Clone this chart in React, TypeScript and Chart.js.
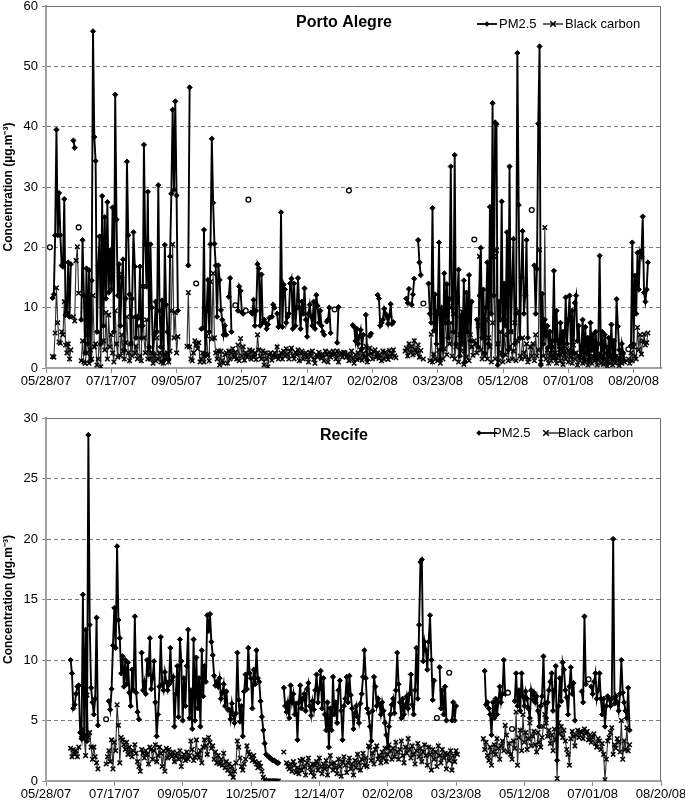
import React, { useEffect, useRef } from 'react';
import { Chart, registerables } from 'chart.js';

Chart.register(...registerables);

const _ = null;

// ---------- Porto Alegre (day 0 = 05/28/07) ----------
const portoStartDay = 0;
const portoPM: (number | null)[] = [
  _, _, _, 20, _, 11.6, 12.2, 22, 39.5, 22, // d0
  29, 22, 17, 16.8, 28, 8.8, 9.2, 17.5, 8.5, 17.2, // d10
  _, 37.7, 36.5, _, _, 23.3, _, 8, 21.2, 12, // d20
  2.5, 16.5, 4, 16.2, 1.2, 14.5, 55.8, 38.3, 34.3, 6, // d30
  17, 21.8, 4, 28.5, 7, 25, 11.5, 27.5, 12.5, 19.5, // d40
  13, 26.6, 6, 45.3, 24.6, 12, 17.2, 7, 15, 18, // d50
  3, 11.5, 34.2, 22, 12.2, 4, 11.5, 22.5, 16.8, 5, // d60
  8.5, 8.3, 16.8, 5, 7, 37, 20.5, 13.5, 29.2, 3.5, // d70
  20.5, 10, 2.5, 5.5, 11, 6, 30.3, 9.5, 3.5, 11.2, // d80
  1.2, 20.4, 10.5, 6, 1.5, 18.5, 28.9, 42.8, 29.5, 44.2, // d90
  28.6, 9.5, _, _, _, _, _, _, _, 17, // d100
  46.5, _, _, _, _, 14, _, _, _, 6.5, // d110
  6.6, 22.9, 2, 9.5, 14.6, 6, 20.5, 38, 27.4, 20.6, // d120
  17, 8.5, 17, 14.6, 9.6, 8, 5.5, 7, 5.5, _, // d130
  11.8, 14.9, 6, _, _, 10.4, _, 9.5, 13.5, 12.8, // d140
  9.2, 9, _, 9.5, _, 27.9, _, 9.2, 9, 11.3, // d150
  7, 9.5, 17.2, 16.5, 7, 15.5, 7.5, 8, 7.5, 6.5, // d160
  7.2, 8.3, _, 8.5, 10.5, 10, _, 9, 6.8, 7, // d170
  25.8, 6.8, 13.8, 13, 7.5, 8.5, 9, 14, 14.8, 6.5, // d180
  14, 7, 10, 14.9, 10, 6.5, 11, 9, 13.2, 8, // d190
  5.2, 9, 10.5, 8.5, 7, 11, 6.5, 12.1, 10.3, 7.5, // d200
  9.5, 7, 6, 5.5, _, 7.7, 8, 10, 5.8, _, // d210
  _, 9.7, _, 4.2, 10.1, _, _, _, _, _, // d220
  _, _, 29.4, _, _, 7.1, 6.8, 4.5, 6.5, 4, // d230
  5.2, 6.3, 3.2, 5.5, _, 8.8, 1.3, _, 5.3, 5.7, // d240
  _, _, _, _, 12.1, 11.5, 7, 7.5, 8, 9.8, // d250
  9, 8.5, 7.3, 8.6, 10.6, 7.3, 7.6, _, _, _, // d260
  _, _, _, _, _, _, 11.5, 10.8, 13.1, _, // d270
  10.5, 12.2, 14.8, _, _, 21.2, 17.5, 15.4, _, 10.7, // d280
  _, _, _, 14, 9, 7.5, 26.5, 6.2, 12.2, 4, // d290
  9, 20.8, 1.5, 10, 3, 15.7, 7.5, 13.9, 5, 11.5, // d300
  33.4, 10, 6, 35.3, 4, 11.9, 16.3, 2, 8.5, 4, // d310
  14.5, 1, 12.5, 6, 15.4, 4.5, 11, _, 21.3, _, // d320
  8, 3.5, 12, 19.9, 5, 13, 2.5, 10, 17.5, 4, // d330
  26.7, 9, 43.9, 12, 40.7, 40.4, 0.5, 11, 8, 27.6, // d340
  2, 14, 7, 22.5, 3, 33.4, 6, 14, 21.4, 4, // d350
  9, 52.2, 27, 5, 15, 22.7, 9, 12, 21.2, 5, // d360
  _, _, 26.2, _, 17, 9, 16.4, 40.5, 53.3, 0.5, // d370
  12.3, 4, 8, 5.4, 7, 3.5, 6, 2, 4.5, 16.1, // d380
  1.5, 9.5, 4.5, 2.2, 7.5, 3.2, 6, 2.5, 11.7, 4, // d390
  8, 12, 3, 9.5, 2.5, 10.8, 12, 4.5, 7, 2, // d400
  3, 8, 1.5, 6.8, 2.5, 5, 1.2, 7.5, 3, 5.5, // d410
  2, 6, 1.5, 4, 18.6, 2, 6, 1.5, 5.5, 3.5, // d420
  1, 5, 2, 7.2, 1.5, 4.5, 2, 11.4, 6.9, 3, // d430
  1.5, 4, 2.5, 1.2, _, _, 3.1, _, 3.7, 20.8, // d440
  4, 15.3, 9, 19.1, 13, 19.3, 18.5, 25.1, 12.5, 11, // d450
  13, 17.5, // d460
];
const portoBC: (number | null)[] = [
  _, _, _, _, _, 1.9, 1.8, 5.8, 13.3, 7.5, // d0
  4.3, 4.1, 6, 5.5, 11, 3.8, 2.5, 4, 1.5, 3, // d10
  _, 8.5, 7.8, 17.8, 20.1, 12.4, _, 1.2, 4.5, 1, // d20
  0.8, 2.5, 5.5, 0.8, 3, 1.5, 12, 3.5, 4, 0.5, // d30
  1.5, 6, 0.2, 21.5, 4.5, 3, 9.2, 1.5, 8.8, 3.5, // d40
  5.5, 2.5, 1, 9.5, 4, 1.8, 15.5, 2, 5.5, 2.8, // d50
  1.5, 4.2, 8.5, 2.5, 1.2, 4, 2, 8.5, 2.5, 3.6, // d60
  1.5, 7, 2, 1.2, 13.5, 5, 2.5, 8, 1.5, 3, // d70
  1.5, 2.5, 0.8, 2, 1.2, 5, 1.5, 2.5, 1, 3.5, // d80
  0.8, 2.3, 1.5, 2.5, 1, 2.8, 9.5, 20.5, 5, 9.2, // d90
  2.5, 5.2, _, _, _, _, _, _, 3.6, 12.5, // d100
  3.5, 1.5, 1.2, 2.5, 4.5, 3.8, 3.2, 4.2, 1, 1.5, // d110
  2.5, 1, 2.3, 5.3, 2.2, 1.2, 14.3, 4.8, 15.7, 5, // d120
  2.5, 1.5, 2.8, 0.5, 2.8, 1.2, 0.8, 2.2, 2.5, 0.8, // d130
  2.8, 1.5, 2.5, 3.2, 1.8, 2.6, 1.5, 3.8, 1.2, 4.9, // d140
  2, 3.5, 1.3, 2.5, 1.8, 2.2, 3, 1.5, 2.8, 1.8, // d150
  2.5, 1.4, 5.5, 3, 2, 1.5, 2.8, 0.5, 2.5, 1.5, // d160
  0.2, 2.2, 2.5, 1.3, 2, 2.5, 1.8, 3.5, 1.5, 2, // d170
  2.5, 1.5, 2.8, 2, 3.2, 2.2, 1.5, 2.8, 3.3, 2, // d180
  1.5, 2.6, 2.2, 3, 1.2, 2.4, 2.8, 1.5, 2.2, 2.5, // d190
  1.8, 1, 2.6, 2, 2.8, 1.4, 0.8, 2.2, 1.8, 2.6, // d200
  2, 1.6, 2.3, 1.2, 2.8, 2.2, 1, 2.6, 1.8, 2.3, // d210
  2.8, 2.3, 1.5, 2.8, 1, 2.2, 2.5, 1.8, 2.6, 2.5, // d220
  1.8, 2.3, 1.2, 2, 2.8, 1.5, 0.8, 2.2, 1.4, 2.5, // d230
  1.6, 3, 1.3, 2.4, 1.8, 3.6, 1, 2.2, 3.3, 2.4, // d240
  1.5, 2.7, 3, 1.8, 2.5, 1.6, 2.2, 1.2, 2.8, 1.5, // d250
  2.6, 2, 1.4, 2.9, 1.8, 2.4, 3, 2, 1.7, _, // d260
  _, _, _, _, _, 2.8, 3.3, 2, 4, 2.6, // d270
  3.6, 2.2, 4.5, 3, 2.5, 3.8, 1.8, 2.9, _, 1.5, // d280
  _, _, _, _, 1.2, 5.6, 1, 2.3, 1.5, 9.5, // d290
  1.2, 3, 0.8, 6, 1.5, 3.2, 9.5, 2.2, 10.8, 4, // d300
  7.5, 2, 9, 1.5, 3.5, 10.8, 1, 5.5, 2.8, 9.3, // d310
  0.6, 6, 1.8, 8.5, 1.2, 5.5, 3.5, 2.1, 4.5, 4, // d320
  2.5, 7, 18.5, 3, 1.5, 6.5, 2, 8, 1.5, 5, // d330
  3.5, 1, 7.5, 18.5, 1.5, 19.5, 4, 1.2, 6, 2.5, // d340
  1, 5.5, 2.2, 8, 1.2, 3.5, 6, 1.5, 2.8, 7.5, // d350
  1.2, 4.5, 9.5, 2, 1.5, 5, 2.5, 1.8, 4, 1, // d360
  1.5, 3.5, 2, 4, 1.2, 5.5, 2, 3, 19.6, 1, // d370
  4.5, 2, 23.3, 1.5, 3, 0.8, 2.5, 1.2, 3.5, 1.8, // d380
  2.5, 0.8, 2, 3.6, 1.2, 2.8, 0.6, 2.2, 1.5, 3.2, // d390
  1, 2.5, 1.8, 0.8, 3.8, 1.5, 2.5, 0.5, 2, 1.2, // d400
  3.5, 0.8, 2.2, 1, 2.6, 0.5, 1.8, 3, 0.8, 2, // d410
  1.2, 2.8, 0.5, 1.5, 2.4, 0.8, 1.9, 0.6, 2.5, 1, // d420
  0.3, 1.8, 0.8, 2.2, 0.5, 1.5, 0.8, 2, 1.2, 0.4, // d430
  1.6, 0.8, 2, 1, _, _, 1.5, 0.8, 2.5, 1.2, // d440
  3.5, 2, 1.5, 6.7, 3, 5.5, 2.3, 4.5, 5.6, 3.8, // d450
  4.2, 5.8, // d460
];

// ---------- Recife (first value = day 18) ----------
const recifeStartDay = 18;
const recifePM: (number | null)[] = [
  10, 8.9, 6, 6.3, 7.2, 7.8, 7.9, 4, 3.5, 15.4, // d18
  3.8, 12.5, 3.3, 28.6, 12.9, 7.7, 6.5, 5.5, 6.8, 13.5, // d28
  4.6, _, _, _, _, _, 5.1, _, 6.6, 5.9, // d38
  7.6, 11.2, 14.3, 11, 19.4, 13.3, 11.8, 8.9, 10.3, 7.8, // d48
  10, 8, 9.8, 7.3, 6.2, 9.2, 7.5, 13.6, 7.3, 5.7, // d58
  5.1, _, 10.6, 7.5, 8.2, 7.2, 10, 8.8, 11.8, 7.6, // d68
  8.5, 9.9, 6.5, 3.7, 5.5, 7.8, 11.9, 8, 7.5, 9, // d78
  8.2, 7.5, 8, 11, 8.3, 8.6, 4.5, 7.2, 9.5, 5.3, // d88
  11.7, 9.9, 5, 8.5, 6.2, 9.5, 12.5, 5.2, 7.5, 4.3, // d98
  11.7, 5, 10.2, 6, 8.5, 4.5, 10.8, 7, 9.5, 8.2, // d108
  13.7, 12.4, 13.8, 11.5, 10.4, 8.7, 7.9, 8.2, 7.8, 8.5, // d118
  6.8, 7.3, 8, 6.2, 7.4, 5.9, 5.9, 5.1, 6.4, 5.5, // d128
  4.8, 5.6, 10.6, 6.7, 4.9, 6.2, 3.7, 7.4, 8.8, 7.6, // d138
  11, 8.9, 8.5, 6, 9.2, 8, 10.8, 8.5, 8.2, 6.6, // d148
  5.3, 4.2, 3.1, 2.2, 2.1, 2, 1.9, 1.8, 1.7, 1.7, // d158
  1.6, 1.5, 1.5, _, _, _, 7.7, 6.2, 5.7, 6.5, // d168
  5.2, 7.9, 6.5, 7.2, 5.5, 6.4, 3.4, 6.5, 7.9, 6, // d178
  6.8, 7.2, 5.8, 7.6, 8.1, 6.2, 5.4, 6.6, 5.9, 7.5, // d188
  8.8, 6.5, 7.6, 9.1, 6, 8.5, 5.5, 4.2, 6.5, 2.8, // d198
  6, 4.2, 8.6, 5.5, 6.5, 4.8, 7.5, 8.3, 5.8, 3.4, // d208
  6.2, 6.8, 8.6, 6.5, 8.7, 7.1, 6, 4.3, 5.6, 6.2, // d218
  5.3, 4.8, 6.4, 7.2, 8.6, 10.8, 8.5, 6, 5.6, 4.5, // d228
  3.3, 5.8, 8.6, 7.8, 6.2, 6.8, 6.3, 5.5, 6.5, 5.8, // d238
  4.8, 3.8, 2.8, 4.5, 5.5, 6.3, 6.8, 5.6, 7.5, 10.6, // d248
  8, 6.5, 5.2, 6.8, 5.5, 6.3, 7, 6, 7.2, 8.8, // d258
  6.3, 5.5, 7.5, 11, 6.8, 12.9, 18.1, 18.3, 9.9, 11.5, // d268
  10.8, 9.2, 11.5, 13.7, 10, 6.7, 8.3, _, 5.2, _, // d278
  9.4, 6, 7.5, 5.5, 7.8, 5, _, 8.95, _, 5, // d288
  6.5, 5, 6.2, _, _, _, _, _, _, _, // d298
  _, _, _, _, _, _, _, _, _, _, // d308
  _, _, _, 9.1, 6.3, 6.5, 6, 5.5, 3.8, 6.5, // d318
  5.2, 6.8, 5.5, 6.5, 7.8, 6.5, 7.2, 10, 7.2, _, // d328
  7.3, _, _, 4.3, _, 6.6, 8.9, 6.2, 7.5, 5.8, // d338
  8.9, 7, 6.2, 7.4, 6.8, 6, 5.2, 7.5, 6.8, 7.3, // d348
  6.5, 7, 5.8, 4.5, 6.2, 7, 10.3, 6.4, 5.2, 6.5, // d358
  7.5, 8.2, 8.9, 5.8, 7.5, 9.5, 1.7, 6.2, 8.5, 6.6, // d368
  9.8, 9.2, 7.5, 6.9, 5.5, 7.8, 9.4, 7.2, 8.1, 5, // d378
  _, _, _, _, 7.4, 6.5, 13.6, 8, _, 8.4, // d388
  _, 7.8, 7.2, 8.2, 8.9, 6.8, 7.5, 8.9, 6.8, 5.5, // d398
  6.8, 4.5, 6.2, 7, 6.8, 6.2, 6.8, 20, 6.4, 7, // d408
  6.5, 5.8, 7.2, 10, 7.3, 6.5, 5.8, 5.2, 7.7, 4.2, // d418
];
const recifeBC: (number | null)[] = [
  2.7, 2, 2.6, 2.2, 2.5, 2, 2.8, _, 3.8, 4.3, // d18
  3.5, 2.1, 7.1, 3.6, 4, 2.8, 1.8, 2.8, 2, 1.5, // d28
  1, _, _, _, _, _, 1.4, 2, 2.5, 1.6, // d38
  3.4, 1, 3.2, 2.5, 6.3, 4.6, 1.5, 3.6, 3.4, 3, // d48
  2.6, 3.2, 2.2, 2.8, 2.4, 2, 2.5, 3, 2.3, 1.6, // d58
  1.2, 0.8, 2.6, 2.3, 1.9, 2.5, 2.2, 1.4, 2.8, 2.6, // d68
  1.8, 2.5, 3, 1.6, 2.1, 2.8, 2.3, 1.2, 2.5, 0.8, // d78
  2.7, 1.9, 2.6, 2.2, 2, 2.4, 1.6, 2.1, 2.3, 1.8, // d88
  2.5, 1.2, 2, 2.2, 1.7, 2.4, 1.8, 2.1, 3.3, 2.6, // d98
  1.7, 2, 3.4, 2.2, 1.9, 2.5, 1.5, 2.8, 3.4, 2.9, // d108
  2.2, 3.6, 3.2, 2.7, 2.9, 1.8, 2.4, 1.5, 2.1, 1.4, // d118
  1.8, 1.3, 2.3, 1.1, 1.6, 0.9, 1.4, 0.6, 1.2, 0.3, // d128
  0.8, 1.5, 3.3, 2.8, 1.9, 1.2, 0.9, 1.4, 1.8, 2.9, // d138
  2.4, 2.2, 2, 1.7, 2.1, 1.6, 1.4, 1.1, 1.5, 1.2, // d148
  0.8, 0.3, 0.1, 0, 0, 0, 0, 0, 0, 0, // d158
  0, 0, 0, _, _, _, 2.4, _, 1.5, 1.2, // d168
  1, 1.4, 0.8, 1.6, 1.3, 0.7, 1.1, 0.6, 1.7, 0.9, // d178
  1.8, 1.2, 0.5, 1.5, 1.9, 1.1, 0.7, 1.4, 0.4, 1.3, // d188
  1.6, 0.9, 1.9, 1.2, 0.6, 1.4, 1, 1.7, 0.5, 1.2, // d198
  2.1, 1.4, 0.9, 1.5, 1.1, 0.6, 1.8, 1.2, 0.4, 1.6, // d208
  2, 1.3, 0.7, 1.5, 1.9, 1, 1.4, 0.5, 1.7, 1.1, // d218
  2.2, 1.5, 0.9, 1.8, 2.3, 1.3, 1.9, 1.2, 2.9, 2.8, // d228
  1.7, 2.3, 1.4, 2.6, 2.9, 1.8, 2.1, 1.5, 2.4, 1.9, // d238
  2.7, 1.6, 2.2, 3, 2.5, 1.8, 2.7, 2, 3.2, 2.4, // d248
  1.8, 2.6, 3.3, 2.1, 1.5, 2.8, 2.3, 3.5, 2.6, 1.9, // d258
  2.9, 2.2, 1.4, 2.5, 3.1, 2, 2.7, 1.6, 2.4, 3, // d268
  2.1, 1.3, 2.8, 2.2, 0.9, 2.6, 1.8, 2.4, 1.2, 2.9, // d278
  2.1, 1.5, 2.6, 1.9, 2.3, 1, 2.2, 1.7, 2.5, 0.9, // d288
  2.1, 1.6, 2.5, 2.2, _, _, _, _, _, _, // d298
  _, _, _, _, _, _, _, _, _, _, // d308
  _, _, 3.5, 2.6, 3.2, 2.1, 1.7, 2.8, 1.3, 2.4, // d318
  3, 2.2, 3.5, 2.7, 1.8, 2.9, 3.3, 2.5, 4.6, 3.8, // d328
  2.4, 3.1, 2.2, 1.8, 3.3, 2.7, 5.7, 1.3, 3.6, 4.2, // d338
  2.5, 5.5, 3.2, 4, 2.6, 3.5, 4.8, 2.9, 3.7, 4.1, // d348
  3, 2.4, 4, 3.2, 2.8, 3.6, 4.5, 5.5, 4.8, 3.7, // d358
  4.2, 3.1, 3.8, 2.5, 4.3, 3.4, 0.2, 4.8, 3.9, 4.5, // d368
  3.6, 4.2, 3.3, 2.6, 2.2, 1.3, 3.5, 4.1, 3.7, 2.9, // d378
  3.8, 4.2, 3.6, 4.1, 4, 3.5, 4.3, 3.9, 4.1, 3.4, // d388
  3.8, 3.2, 3.6, 3.9, 3.1, 2.8, 3.5, 3.3, 2.6, 3.1, // d398
  2.2, 0.1, 1.8, 3.3, 3.6, 4, 4.4, 2.2, 3, 2.7, // d408
  3.5, 3.2, 2.4, 5, 1.8, 3.3, 2.6, 4.4, 2.5, 3, // d418
];

// ---------- axes ----------
const tickDays = [0, 50, 100, 150, 200, 250, 300, 350, 400, 450];
const tickLabels = ['05/28/07', '07/17/07', '09/05/07', '10/25/07', '12/14/07', '02/02/08', '03/23/08', '05/12/08', '07/01/08', '08/20/08'];
const seriesLabels = ['PM2.5', 'Black carbon'];
const yTitle = 'Concentration (\u00b5g.m\u207b\u00b3)';

const FONT = '"Liberation Sans", Arial, Helvetica, sans-serif';

function toPoints(arr: (number | null)[], start: number) {
  return arr.map((v, i) => ({ x: start + i, y: v }));
}

function isIsolated(ctx: any) {
  const d = ctx.dataset.data;
  const i = ctx.dataIndex;
  const p = d[i - 1];
  const n = d[i + 1];
  return (!p || p.y == null) && (!n || n.y == null);
}

const decorPlugin = {
  id: 'decor',
  afterDraw(chart: any, _args: any, opts: any) {
    const { ctx, chartArea: a } = chart;
    ctx.save();
    // top + right frame
    ctx.strokeStyle = '#6e6e6e';
    ctx.lineWidth = 1;
    ctx.setLineDash([]);
    ctx.beginPath();
    ctx.moveTo(a.left, a.top + 0.5);
    ctx.lineTo(a.right - 0.5, a.top + 0.5);
    ctx.lineTo(a.right - 0.5, a.bottom);
    ctx.stroke();
    // title
    ctx.fillStyle = '#000';
    ctx.font = 'bold 16px ' + FONT;
    ctx.textAlign = 'center';
    ctx.textBaseline = 'middle';
    ctx.fillText(opts.title, a.left + opts.titleX, a.top + opts.titleY);
    // legend
    const ly = a.top + opts.legendY;
    ctx.font = '13px ' + FONT;
    ctx.textAlign = 'left';
    const items = opts.legend as any[];
    items.forEach((it, k) => {
      const x1 = a.right + it.lineFrom;
      const x2 = a.right + it.lineTo;
      ctx.strokeStyle = '#000';
      ctx.lineWidth = k === 0 ? 1.8 : 1.2;
      ctx.beginPath();
      ctx.moveTo(x1, ly);
      ctx.lineTo(x2, ly);
      ctx.stroke();
      const mx = a.right + it.marker;
      if (k === 0) {
        ctx.fillStyle = '#000';
        ctx.beginPath();
        ctx.moveTo(mx, ly - 2.8);
        ctx.lineTo(mx + 2.8, ly);
        ctx.lineTo(mx, ly + 2.8);
        ctx.lineTo(mx - 2.8, ly);
        ctx.closePath();
        ctx.fill();
      } else {
        ctx.lineWidth = 1.5;
        ctx.beginPath();
        ctx.moveTo(mx - 2.8, ly - 2.8);
        ctx.lineTo(mx + 2.8, ly + 2.8);
        ctx.moveTo(mx + 2.8, ly - 2.8);
        ctx.lineTo(mx - 2.8, ly + 2.8);
        ctx.stroke();
      }
      ctx.fillStyle = '#000';
      ctx.fillText(seriesLabels[k], a.right + it.text, ly + 0.5);
    });
    ctx.restore();
  },
};

type PanelProps = {
  top: number;
  height: number;
  pm: (number | null)[];
  bc: (number | null)[];
  start: number;
  xMax: number;
  yMax: number;
  yStep: number;
  padTop: number;
  xAxisH: number;
  decor: any;
};

function Panel(p: PanelProps) {
  const ref = useRef<HTMLCanvasElement>(null);
  useEffect(() => {
    const chart = new Chart(ref.current as HTMLCanvasElement, {
      type: 'line',
      data: {
        datasets: [
          {
            label: seriesLabels[0],
            data: toPoints(p.pm, p.start) as any,
            borderColor: '#000',
            borderWidth: 1.9,
            pointStyle: ((ctx: any) => (isIsolated(ctx) ? 'circle' : 'rectRot')) as any,
            pointRadius: ((ctx: any) => (isIsolated(ctx) ? 2.4 : 2.6)) as any,
            pointBackgroundColor: ((ctx: any) => (isIsolated(ctx) ? '#fff' : '#000')) as any,
            pointBorderColor: '#000',
            pointBorderWidth: ((ctx: any) => (isIsolated(ctx) ? 1.3 : 1)) as any,
            spanGaps: false,
            order: 0,
          },
          {
            label: seriesLabels[1],
            data: toPoints(p.bc, p.start) as any,
            borderColor: '#2e2e2e',
            borderWidth: 1.1,
            pointStyle: 'crossRot',
            pointRadius: 3.2,
            pointBorderColor: '#000',
            pointBorderWidth: 1.5,
            spanGaps: false,
            order: 1,
          },
        ],
      },
      options: {
        animation: false,
        responsive: false,
        maintainAspectRatio: false,
        devicePixelRatio: 1,
        events: [],
        layout: { padding: { top: p.padTop, right: 24, left: 0, bottom: 0 } },
        plugins: {
          legend: { display: false },
          tooltip: { enabled: false },
          decor: p.decor,
        } as any,
        scales: {
          x: {
            type: 'linear',
            min: 0,
            max: p.xMax,
            afterBuildTicks: (axis: any) => {
              axis.ticks = tickDays.map((v) => ({ value: v }));
            },
            afterFit: (s: any) => {
              s.height = p.xAxisH;
              s.paddingLeft = 0;
              s.paddingRight = 0;
            },
            ticks: {
              autoSkip: false,
              maxRotation: 0,
              minRotation: 0,
              padding: 1,
              color: '#000',
              font: { family: FONT, size: 13 },
              callback: (v: any) => {
                const i = tickDays.indexOf(Number(v));
                return i >= 0 ? tickLabels[i] : '';
              },
            },
            grid: {
              display: true,
              drawOnChartArea: false,
              drawTicks: true,
              tickLength: 5,
              tickColor: '#8c8c8c',
              color: '#8c8c8c',
            },
            border: { display: true, color: '#a0a0a0', width: 2 },
          },
          y: {
            type: 'linear',
            min: 0,
            max: p.yMax,
            afterFit: (s: any) => {
              s.width = 46;
              s.paddingTop = 0;
              s.paddingBottom = 0;
            },
            ticks: {
              stepSize: p.yStep,
              padding: 4,
              color: '#000',
              font: { family: FONT, size: 13 },
            },
            grid: {
              display: true,
              drawOnChartArea: true,
              drawTicks: true,
              tickLength: 4,
              color: '#7a7a7a',
              tickColor: '#8c8c8c',
              lineWidth: 1,
            },
            border: { display: true, color: '#a0a0a0', width: 2, dash: [4, 3] },
            title: {
              display: true,
              text: yTitle,
              color: '#000',
              padding: { top: 1, bottom: 0 },
              font: { family: FONT, size: 12, weight: 'bold' },
            },
          },
        },
      } as any,
      plugins: [decorPlugin as any],
    });
    return () => chart.destroy();
  }, []);
  return (
    <canvas
      ref={ref}
      width={685}
      height={p.height}
      style={{ position: 'absolute', left: 0, top: p.top, width: 685, height: p.height, display: 'block' }}
    />
  );
}

export default function App() {
  return (
    <div style={{ position: 'absolute', left: 0, top: 0, width: 685, height: 801, background: '#fff', overflow: 'hidden' }}>
      <Panel
        top={0}
        height={395}
        pm={portoPM}
        bc={portoBC}
        start={portoStartDay}
        xMax={471}
        yMax={60}
        yStep={10}
        padTop={6}
        xAxisH={27}
        decor={{
          title: 'Porto Alegre',
          titleX: 298,
          titleY: 17,
          legendY: 18,
          legend: [
            { lineFrom: -184, lineTo: -164, marker: -174, text: -162 },
            { lineFrom: -118, lineTo: -98, marker: -108, text: -96 },
          ],
        }}
      />
      <Panel
        top={395}
        height={406}
        pm={recifePM}
        bc={recifeBC}
        start={recifeStartDay}
        xMax={450}
        yMax={30}
        yStep={5}
        padTop={23}
        xAxisH={20}
        decor={{
          title: 'Recife',
          titleX: 298,
          titleY: 18,
          legendY: 15,
          legend: [
            { lineFrom: -182, lineTo: -164, marker: -182, text: -168 },
            { lineFrom: -115, lineTo: -97, marker: -115, text: -103 },
          ],
        }}
      />
    </div>
  );
}
